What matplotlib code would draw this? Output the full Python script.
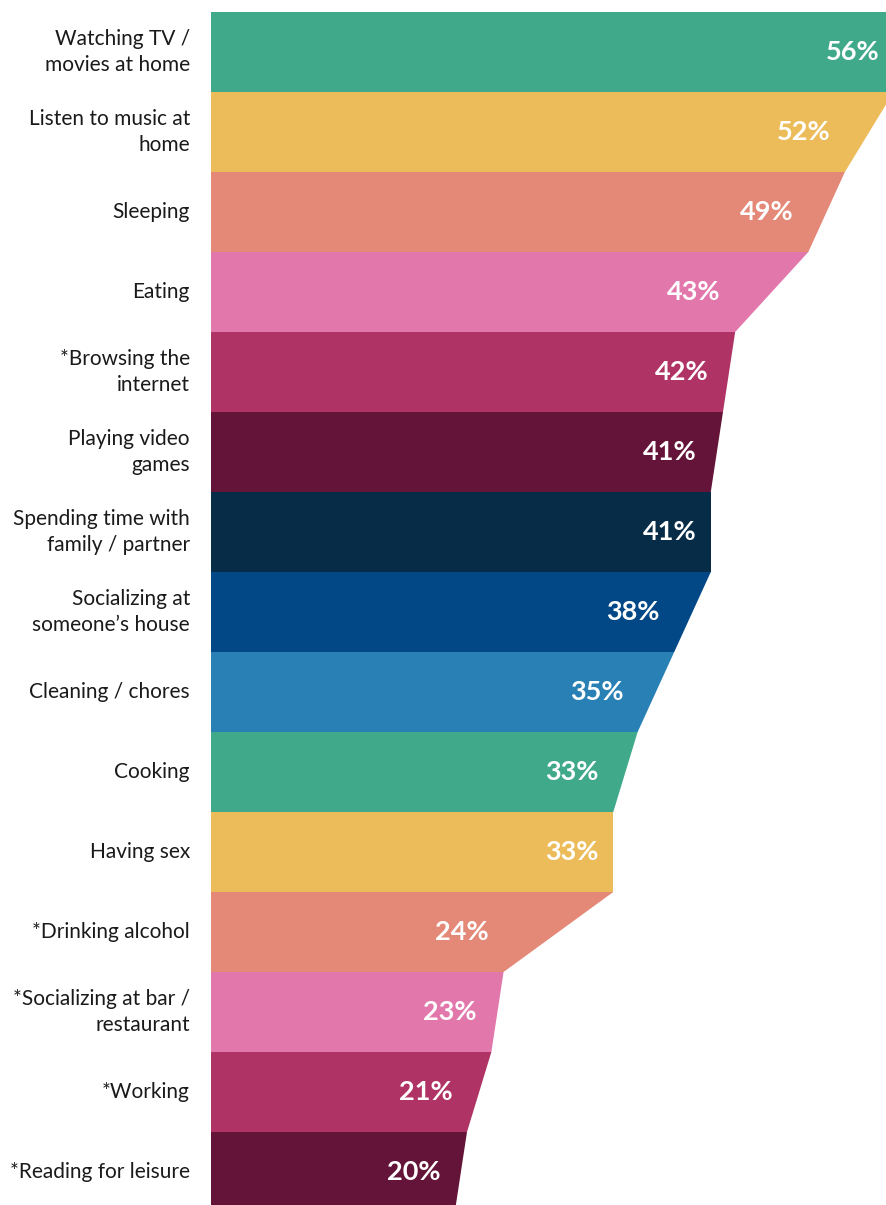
import matplotlib
matplotlib.use("Agg")
import matplotlib.pyplot as plt
from matplotlib.patches import Polygon

# Share of respondents doing each activity
categories = [
    "Watching TV /\nmovies at home",
    "Listen to music at\nhome",
    "Sleeping",
    "Eating",
    "*Browsing the\ninternet",
    "Playing video\ngames",
    "Spending time with\nfamily / partner",
    "Socializing at\nsomeone\u2019s house",
    "Cleaning / chores",
    "Cooking",
    "Having sex",
    "*Drinking alcohol",
    "*Socializing at bar /\nrestaurant",
    "*Working",
    "*Reading for leisure",
]
values = [56, 52, 49, 43, 42, 41, 41, 38, 35, 33, 33, 24, 23, 21, 20]

colors = [
    "#3FA98A", "#ECBC5A", "#E48877", "#E277AC", "#B03366", "#641438",
    "#072C48", "#024786", "#2880B5",
    "#3FA98A", "#ECBC5A", "#E48877", "#E277AC", "#B03366", "#641438",
]

W, H = 887, 1205
fig = plt.figure(figsize=(W / 100, H / 100), dpi=100)
fig.patch.set_facecolor("white")

px_per_unit = 12.19
x0 = 211
top_px, band_px = 12, 80
n = len(values)
ax_h = band_px * n
ax = fig.add_axes([x0 / W, (H - top_px - ax_h) / H,
                   56 * px_per_unit / W, ax_h / H])
ax.set_xlim(0, 56)
ax.set_ylim(n, 0)
ax.axis("off")

for i, (v, c) in enumerate(zip(values, colors)):
    top = values[i - 1] if i > 0 else v
    poly = Polygon([(0, i), (top, i), (v, i + 1), (0, i + 1)],
                   closed=True, facecolor=c, edgecolor="none")
    ax.add_patch(poly)
    # value label inside the band, near its right edge
    ax.text(v - 14.5 / px_per_unit, i + 0.5, f"{v}%", ha="right", va="center",
            color="white", fontsize=19.5, fontweight="bold", family="Lato")
    # category label to the left of the band
    ax.text(-21 / px_per_unit, i + 0.5, categories[i], ha="right", va="center",
            color="#1a1a1a", fontsize=15, family="Lato", linespacing=1.35,
            clip_on=False)

fig.savefig("out.png", dpi=100)
